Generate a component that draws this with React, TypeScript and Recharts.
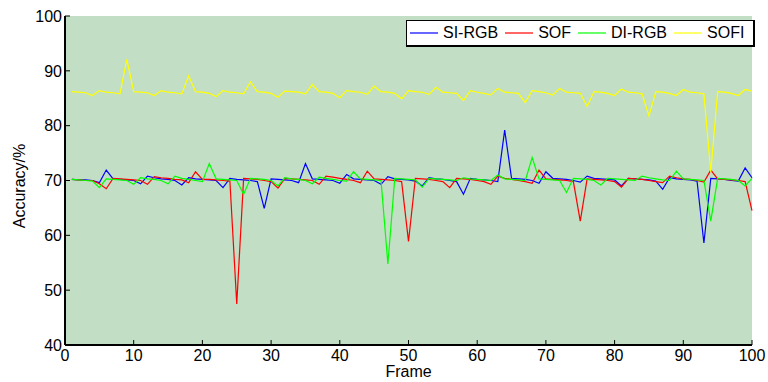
import React from "react";
import {
  LineChart,
  Line,
  XAxis,
  YAxis,
  CartesianGrid,
} from "recharts";

// ── Data ─────────────────────────────────────────────────────────────────────

const FRAMES = [
  1, 2, 3, 4, 5, 6, 7, 8, 9, 10, 11, 12, 13, 14, 15, 16, 17, 18, 19, 20,
  21, 22, 23, 24, 25, 26, 27, 28, 29, 30, 31, 32, 33, 34, 35, 36, 37, 38, 39, 40,
  41, 42, 43, 44, 45, 46, 47, 48, 49, 50, 51, 52, 53, 54, 55, 56, 57, 58, 59, 60,
  61, 62, 63, 64, 65, 66, 67, 68, 69, 70, 71, 72, 73, 74, 75, 76, 77, 78, 79, 80,
  81, 82, 83, 84, 85, 86, 87, 88, 89, 90, 91, 92, 93, 94, 95, 96, 97, 98, 99, 100,
];

const SI_RGB = [
  70.2, 70.1, 70.1, 70.0, 69.6, 71.9, 70.3, 70.2, 70.1, 70.0,
  69.4, 70.8, 70.5, 70.3, 70.2, 70.0, 69.2, 70.5, 70.3, 70.2,
  70.1, 70.0, 68.7, 70.4, 70.2, 70.1, 70.0, 69.8, 64.9, 70.3,
  70.2, 70.1, 70.0, 69.6, 73.1, 70.3, 70.2, 70.1, 70.0, 69.5,
  71.1, 70.3, 70.2, 70.1, 70.0, 69.3, 70.7, 70.3, 70.2, 70.1,
  69.9, 69.0, 70.5, 70.3, 70.2, 70.0, 69.8, 67.5, 70.4, 70.2,
  70.1, 70.0, 69.8, 79.2, 70.4, 70.3, 70.2, 70.0, 69.5, 71.6,
  70.4, 70.3, 70.2, 70.0, 69.7, 70.8, 70.4, 70.3, 70.2, 70.1,
  69.0, 70.4, 70.3, 70.2, 70.1, 69.9, 68.4, 70.5, 70.3, 70.2,
  70.1, 69.9, 58.6, 70.4, 70.3, 70.2, 70.0, 69.9, 72.3, 70.5,
];

const SOF = [
  70.2, 70.1, 70.0, 70.0, 69.4, 68.5, 70.4, 70.3, 70.2, 70.1,
  70.0, 69.3, 70.7, 70.5, 70.4, 70.2, 70.1, 69.6, 71.6, 70.2,
  70.2, 70.1, 70.0, 69.9, 47.5, 70.4, 70.3, 70.2, 70.0, 69.8,
  68.6, 70.4, 70.3, 70.2, 70.1, 70.0, 69.3, 70.8, 70.6, 70.4,
  70.2, 70.0, 69.6, 71.7, 70.3, 70.2, 70.1, 70.0, 69.8, 58.9,
  70.4, 70.3, 70.2, 70.0, 69.8, 68.7, 70.4, 70.3, 70.2, 70.0,
  69.8, 69.3, 70.8, 70.4, 70.2, 70.0, 69.8, 69.5, 71.9, 70.3,
  70.2, 70.1, 70.0, 69.8, 62.6, 70.3, 70.2, 70.1, 70.0, 69.8,
  68.8, 70.4, 70.3, 70.2, 70.0, 69.8, 69.6, 70.8, 70.5, 70.3,
  70.2, 70.0, 69.7, 71.9, 70.3, 70.2, 70.1, 70.0, 69.8, 64.5,
];

const DI_RGB = [
  70.2, 70.1, 70.0, 69.9, 68.7, 70.3, 70.2, 70.1, 70.0, 69.3,
  70.5, 70.3, 70.2, 70.0, 69.4, 70.8, 70.4, 70.2, 70.0, 69.8,
  73.1, 70.3, 70.2, 70.1, 70.0, 67.5, 70.4, 70.3, 70.2, 70.0,
  69.0, 70.5, 70.3, 70.2, 70.0, 69.4, 70.6, 70.4, 70.2, 70.0,
  69.9, 71.6, 70.3, 70.2, 70.1, 70.0, 54.8, 70.4, 70.3, 70.2,
  70.1, 68.8, 70.4, 70.3, 70.2, 70.1, 70.0, 70.5, 70.3, 70.2,
  70.1, 70.0, 71.0, 70.3, 70.2, 70.1, 70.0, 74.2, 70.3, 70.2,
  70.1, 70.0, 67.8, 70.4, 70.3, 70.2, 70.0, 69.2, 70.4, 70.3,
  70.2, 70.1, 70.0, 70.8, 70.5, 70.3, 70.1, 70.0, 71.7, 70.3,
  70.2, 70.1, 70.0, 62.6, 70.4, 70.3, 70.2, 70.0, 69.0, 70.4,
];

const SOFI = [
  86.2, 86.1, 86.0, 85.5, 86.4, 86.1, 86.0, 85.8, 92.1, 86.2,
  86.1, 86.0, 85.5, 86.4, 86.1, 86.0, 85.8, 89.1, 86.2, 86.1,
  85.9, 85.3, 86.4, 86.1, 86.0, 85.8, 88.0, 86.2, 86.1, 85.9,
  85.2, 86.3, 86.2, 86.1, 85.8, 87.5, 86.2, 86.1, 85.9, 85.1,
  86.4, 86.2, 86.1, 85.7, 87.2, 86.2, 86.1, 85.9, 84.9, 86.4,
  86.2, 86.1, 85.7, 87.0, 86.1, 86.0, 85.9, 84.6, 86.4, 86.1,
  85.9, 85.6, 86.8, 86.1, 86.0, 85.9, 84.2, 86.4, 86.2, 86.0,
  85.6, 86.8, 86.1, 86.0, 85.9, 83.5, 86.2, 86.1, 85.9, 85.5,
  86.7, 86.1, 86.0, 85.8, 81.8, 86.2, 86.1, 85.9, 85.5, 86.6,
  86.1, 86.0, 85.8, 71.5, 86.2, 86.1, 85.9, 85.5, 86.6, 86.3,
];

const X_TICKS = [0, 10, 20, 30, 40, 50, 60, 70, 80, 90, 100];
const Y_TICKS = [40, 50, 60, 70, 80, 90, 100];

const SERIES = [
  { key: "siRgb", name: "SI-RGB", color: "#0000ff", values: SI_RGB },
  { key: "sof", name: "SOF", color: "#ff0000", values: SOF },
  { key: "diRgb", name: "DI-RGB", color: "#00ff00", values: DI_RGB },
  { key: "sofi", name: "SOFI", color: "#ffff00", values: SOFI },
];

const FONT = "'Liberation Sans', Arial, Helvetica, sans-serif";

const chartData = FRAMES.map((frame, i) => {
  const row: Record<string, number> = { frame };
  SERIES.forEach((s) => { row[s.key] = s.values[i]; });
  return row;
});

// ── Legend box (MATLAB style), laid over the plot ────────────────────────────

function LegendBox() {
  return (
    <div
      style={{
        position: "absolute",
        left: 406,
        top: 20,
        width: 343,
        height: 24,
        boxSizing: "content-box",
        display: "flex",
        alignItems: "center",
        paddingLeft: 3,
        background: "#fff",
        border: "1px solid #000",
        borderRightWidth: 2,
        borderBottomWidth: 2,
        fontFamily: FONT,
        fontSize: 16,
        lineHeight: "16px",
        color: "#000",
        whiteSpace: "nowrap",
      }}
    >
      {SERIES.map((s) => (
        <span key={s.key} style={{ display: "flex", alignItems: "center", marginRight: 7 }}>
          <svg width={28} height={4} style={{ marginRight: 5, display: "block" }}>
            <line x1={0} y1={2} x2={28} y2={2} stroke={s.color} strokeWidth={1.2} />
          </svg>
          {s.name}
        </span>
      ))}
    </div>
  );
}

// ── Main ─────────────────────────────────────────────────────────────────────

export default function App() {
  const tickStyle = { fontSize: 16, fontFamily: FONT, fill: "#000" };
  return (
    <div style={{ position: "absolute", left: 0, top: 0, width: 768, height: 382, background: "#fff" }}>
      <LineChart
        width={768}
        height={382}
        data={chartData}
        margin={{ top: 16, right: 16, bottom: 0, left: 0 }}
      >
        <CartesianGrid horizontal={false} vertical={false} fill="#c2dec5" />
        <XAxis
          dataKey="frame"
          type="number"
          domain={[0, 100]}
          ticks={X_TICKS}
          height={37}
          tickSize={-5}
          tickMargin={10}
          tick={tickStyle}
          axisLine={{ stroke: "#000", strokeWidth: 2 }}
          tickLine={{ stroke: "#000" }}
          label={{ value: "Frame", position: "insideBottom", offset: 5, style: { fontSize: 16, fontFamily: FONT, fill: "#000" } }}
        />
        <XAxis
          xAxisId="top"
          dataKey="frame"
          type="number"
          orientation="top"
          domain={[0, 100]}
          ticks={X_TICKS}
          height={0}
          tickSize={-5}
          tickFormatter={() => ""}
          axisLine={{ stroke: "#000", strokeWidth: 1.5 }}
          tickLine={{ stroke: "#000" }}
        />
        <YAxis
          type="number"
          domain={[40, 100]}
          ticks={Y_TICKS}
          width={65}
          tickSize={-5}
          tickMargin={8}
          tick={tickStyle}
          axisLine={{ stroke: "#000", strokeWidth: 2 }}
          tickLine={{ stroke: "#000" }}
          label={{
            content: () => (
              <text
                x={25}
                y={186}
                transform="rotate(-90 25 186)"
                textAnchor="middle"
                fontSize={16}
                fontFamily={FONT}
                fill="#000"
              >
                Accuracy/%
              </text>
            ),
          }}
        />
        <YAxis
          yAxisId="right"
          orientation="right"
          type="number"
          domain={[40, 100]}
          ticks={Y_TICKS}
          width={0}
          tickSize={-5}
          tickFormatter={() => ""}
          axisLine={{ stroke: "#000", strokeWidth: 1.5 }}
          tickLine={{ stroke: "#000" }}
        />
        {SERIES.map((s) => (
          <Line
            key={s.key}
            dataKey={s.key}
            name={s.name}
            type="linear"
            stroke={s.color}
            strokeWidth={1.2}
            dot={false}
            activeDot={false}
            isAnimationActive={false}
          />
        ))}
      </LineChart>
      <LegendBox />
    </div>
  );
}
